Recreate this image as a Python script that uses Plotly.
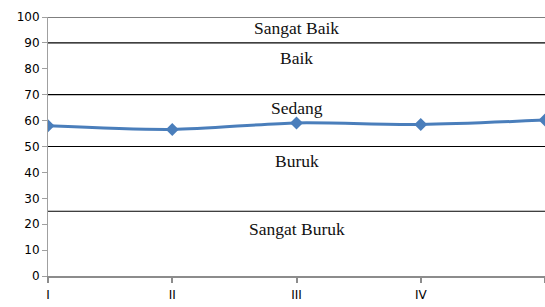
import plotly.graph_objects as go

categories = ["I", "II", "III", "IV", "V"]
values = [58, 56.6, 59.1, 58.5, 60.2]
band_lines = [100, 90, 70, 50, 25]
band_labels = ["Sangat Baik", "Baik", "Sedang", "Buruk", "Sangat Buruk"]
band_label_y = [95.7, 84.2, 64.9, 44.4, 18.1]
y_ticks = [0, 10, 20, 30, 40, 50, 60, 70, 80, 90, 100]

fig = go.Figure()
fig.add_trace(go.Scatter(
    x=list(range(len(categories))), y=values, mode="lines+markers",
    line=dict(color="#4A7EBB", width=3, shape="spline", smoothing=0.8),
    marker=dict(symbol="diamond", size=10, color="#4A7EBB"),
    showlegend=False,
))

for v in band_lines:
    fig.add_shape(type="line", xref="paper", x0=0, x1=1, yref="y", y0=v, y1=v,
                  line=dict(color="black", width=1.2), layer="below")

for lab, yy in zip(band_labels, band_label_y):
    fig.add_annotation(x=2, y=yy, xref="x", yref="y", text=lab, showarrow=False,
                       font=dict(family="Liberation Serif", size=17.5, color="#111"))

fig.update_layout(
    width=545, height=307,
    margin=dict(l=48, r=0, t=17, b=31),
    plot_bgcolor="white", paper_bgcolor="white",
    xaxis=dict(range=[0, 4], tickvals=list(range(len(categories))), ticktext=categories,
               showgrid=False, zeroline=False, showline=True, linecolor="#8c8c8c", linewidth=2,
               ticks="outside", ticklen=5, tickcolor="#8c8c8c", tickwidth=2,
               ticklabelstandoff=2,
               tickfont=dict(family="DejaVu Sans", size=12, color="black")),
    yaxis=dict(range=[0, 100], tickvals=y_ticks, showgrid=False, zeroline=False,
               showline=True, linecolor="#a0a0a0", linewidth=1,
               ticks="outside", ticklen=5, tickcolor="#a0a0a0",
               tickfont=dict(family="DejaVu Sans", size=12, color="black")),
)

fig.write_html("out.html", config={"displayModeBar": False},
               post_script="document.body.style.margin='0';document.body.style.padding='0';")
